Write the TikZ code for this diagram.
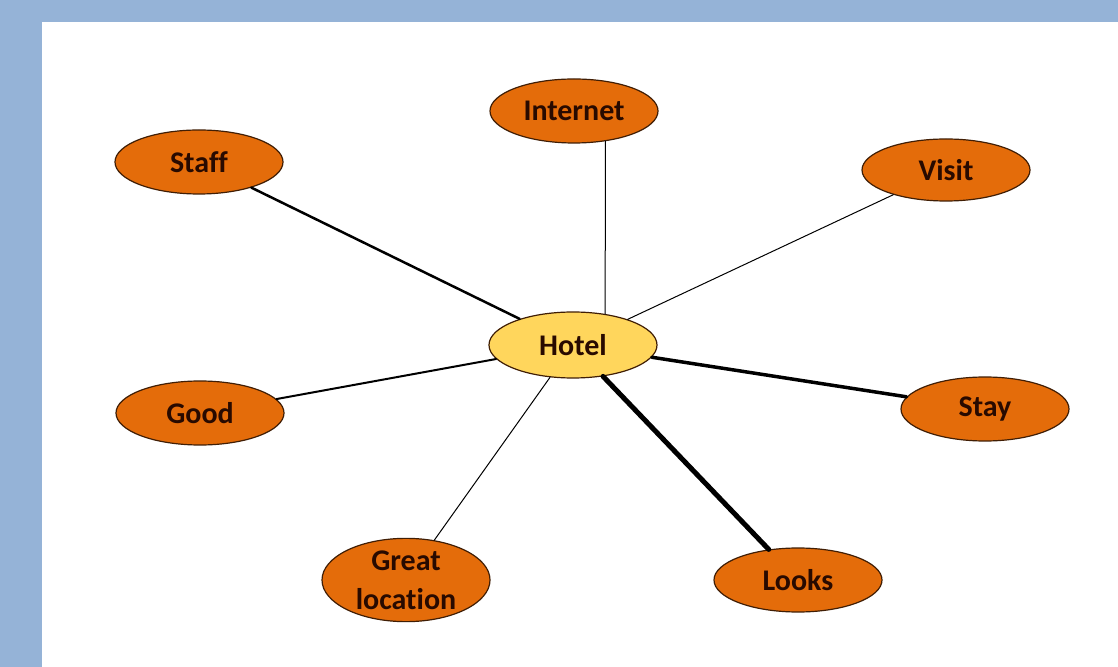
\documentclass[tikz,border=0pt]{standalone}
\usepackage{fontspec}
\setmainfont[Ligatures=NoCommon]{Carlito}
\usepackage{xcolor}
\definecolor{Frame}{RGB}{149,179,215}
\definecolor{Orange}{RGB}{228,108,10}
\definecolor{Yellow}{RGB}{255,214,92}
\definecolor{Brown}{RGB}{64,30,5}
\definecolor{Ink}{RGB}{40,10,0}
\definecolor{Black}{RGB}{0,0,0}
\definecolor{White}{RGB}{255,255,255}
\usepackage{tikz}
\usetikzlibrary{shapes.geometric}

\begin{document}
\begin{tikzpicture}[x=0.5pt, y=-0.5pt,
		topic/.style={ellipse, fill=Orange, draw=Brown, line width=0.6pt, minimum width=84pt, minimum height=32pt, inner sep=0pt, align=center, text=Ink, font=\fontsize{15}{19.5}\selectfont\bfseries},
		link/.style={draw=Black, line cap=round}]
		
		% Frame
		\fill[Frame] (0,0) rectangle (1118,667);
		\fill[White] (42,22) rectangle (1118,667);
		
		% Blocks
		\node[topic, fill=Yellow, minimum height=33pt] (hotel) at (573,345) {Hotel};
		\node[topic] (internet) at (574,111) {Internet};
		\node[topic] (staff) at (199,162) {Staff};
		\node[topic, minimum height=31pt] (visit) at (946,170) {Visit};
		\node[topic] (good) at (200,413) {Good};
		\node[topic] (stay) at (985,409) {Stay};
		\node[topic] (great) at (406,580) {Great\\location};
		\node[topic] (looks) at (798,580) {Looks};
		
		% Links
		\draw[link, line width=1.25pt] (staff) -- (hotel);
		\draw[link, line width=0.5pt] (hotel.44) -- (internet.-44);
		\draw[link, line width=0.5pt] (hotel) -- (visit);
		\draw[link, line width=1pt] (good) -- (hotel);
		\draw[link, line width=1.75pt] (hotel) -- (stay);
		\draw[link, line width=0.5pt] (great) -- (hotel);
		\draw[link, line width=2.5pt] (hotel) -- (looks);
		
\end{tikzpicture}
\end{document}
